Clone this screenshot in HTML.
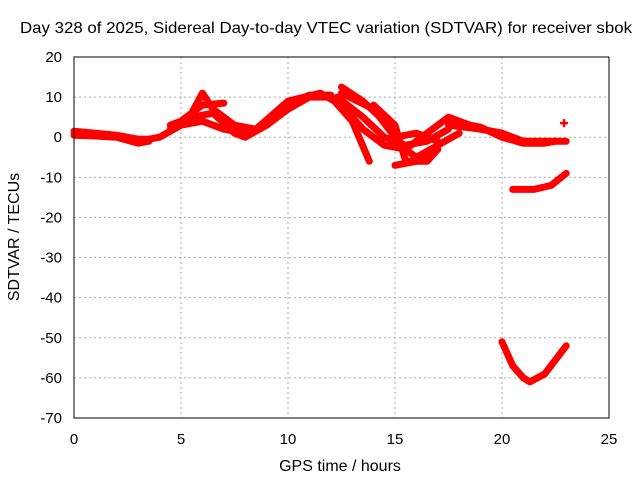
<!DOCTYPE html>
<html><head><meta charset="utf-8"><style>
body{margin:0;background:#fff;}
svg{display:block;font-family:"Liberation Sans",sans-serif;}
</style></head><body>
<svg id="chart" width="640" height="480">
<text x="20" y="33" font-size="16" textLength="612" lengthAdjust="spacingAndGlyphs">Day 328 of 2025, Sidereal Day-to-day VTEC variation (SDTVAR) for receiver sbok</text>
<text x="340" y="471" font-size="16" text-anchor="middle">GPS time / hours</text>
<text transform="translate(19,237) rotate(-90)" font-size="16" text-anchor="middle">SDTVAR / TECUs</text>
<g id="grid"></g><g id="series"></g>
<rect x="74" y="57" width="535" height="361" fill="none" stroke="#000"/>
</svg>
<script>
const xTicks=[0,5,10,15,20,25];
const yTicks=[20,10,0,-10,-20,-30,-40,-50,-60,-70];
const trackStart=[[0,1.5],[1,1],[2,0.5],[3,-0.5],[3.5,-0.5]];
const trackStart2=[[0,0.5],[1,0.3],[2,0],[3,-1.5],[3.5,-1]];
const trackA=[[3,-1],[4,0],[5,3],[6,4],[7,2],[8,1],[9,3],[10,7],[11,10],[12,10],[13,4],[13.8,-6]];
const trackB=[[4.5,2],[5.5,6],[6,11],[6.5,7],[7.5,3],[8.5,2],[10,9],[11.5,11],[12.5,8],[13.5,2],[14.5,-2],[15.5,-3],[16.5,1],[17.5,5],[19,2],[20,1]];
const trackC=[[5,4],[6,8],[7,8.5]];
const trackC2=[[4.5,3],[5.5,5],[6.5,6],[7.5,1],[8,0],[9,3],[10,8],[11,10.5],[12,10.5]];
const trackD=[[12.5,12.5],[13.5,9],[14.5,4],[15.2,-2],[16,-5],[17,-2],[18,1]];
const trackE=[[14,8],[15,3],[15.5,-6],[16.5,-6],[17,-3]];
const trackF=[[12.5,11],[14,7],[15,0],[16,1],[17,-1]];
const trackF2=[[12.3,10],[13.5,5],[14.5,0],[15.5,-2],[16.5,-1],[17.5,2]];
const trackG=[[15,-7],[16,-6],[16.5,-5]];
const trackH=[[17.5,3],[19,2],[20,1],[21,-1],[22,-1],[23,-1]];
const trackH2=[[17.5,4],[19,2.5],[20,0],[21,-1.5],[22,-1.5],[22.5,-1]];
const trackI=[[20.5,-13],[21.5,-13],[22.3,-12],[23,-9]];
const trackJ=[[20,-51],[20.5,-57],[21,-60],[21.3,-61],[22,-59],[23,-52]];
const singlePoint=[[22.9,3.5]];
const tracks=[trackStart,trackStart2,trackA,trackB,trackC,trackC2,trackD,trackE,trackF,trackF2,trackG,trackH,trackH2,trackI,trackJ];
const NS="http://www.w3.org/2000/svg";
const X=t=>74+t*(535/25);
const Y=v=>57+(20-v)*(361/90);
const grid=document.getElementById('grid'),ser=document.getElementById('series');
function mk(tag,attrs,parent){const e=document.createElementNS(NS,tag);for(const k in attrs)e.setAttribute(k,attrs[k]);parent.appendChild(e);return e;}
xTicks.forEach(t=>{
  if(t>0&&t<25){const l=mk('line',{x1:X(t),x2:X(t),y1:57,y2:418,stroke:'#aaa','stroke-dasharray':'2,3'},grid);
  
  }
  const tx=mk('text',{x:X(t),y:444,'font-size':15,'text-anchor':'middle'},grid);tx.textContent=t;
  
  
});
yTicks.forEach(v=>{
  if(v<20&&v>-70){const l=mk('line',{x1:74,x2:609,y1:Y(v),y2:Y(v),stroke:'#aaa','stroke-dasharray':'2,3'},grid);
  
  }
  const tx=mk('text',{x:62,y:Y(v)+5,'font-size':15,'text-anchor':'end'},grid);tx.textContent=v;
  
  
});
tracks.forEach(tr=>{
  const p=mk('polyline',{points:tr.map(d=>X(d[0])+','+Y(d[1])).join(' '),fill:'none',stroke:'#f00','stroke-width':7,'stroke-linejoin':'round','stroke-linecap':'round'},ser);
  
  
});
singlePoint.forEach(d=>{
  const p=mk('path',{d:`M${X(d[0])-4},${Y(d[1])}h8M${X(d[0])},${Y(d[1])-4}v8`,stroke:'#f00','stroke-width':2.5},ser);
  
  
});
</script>
</body></html>
